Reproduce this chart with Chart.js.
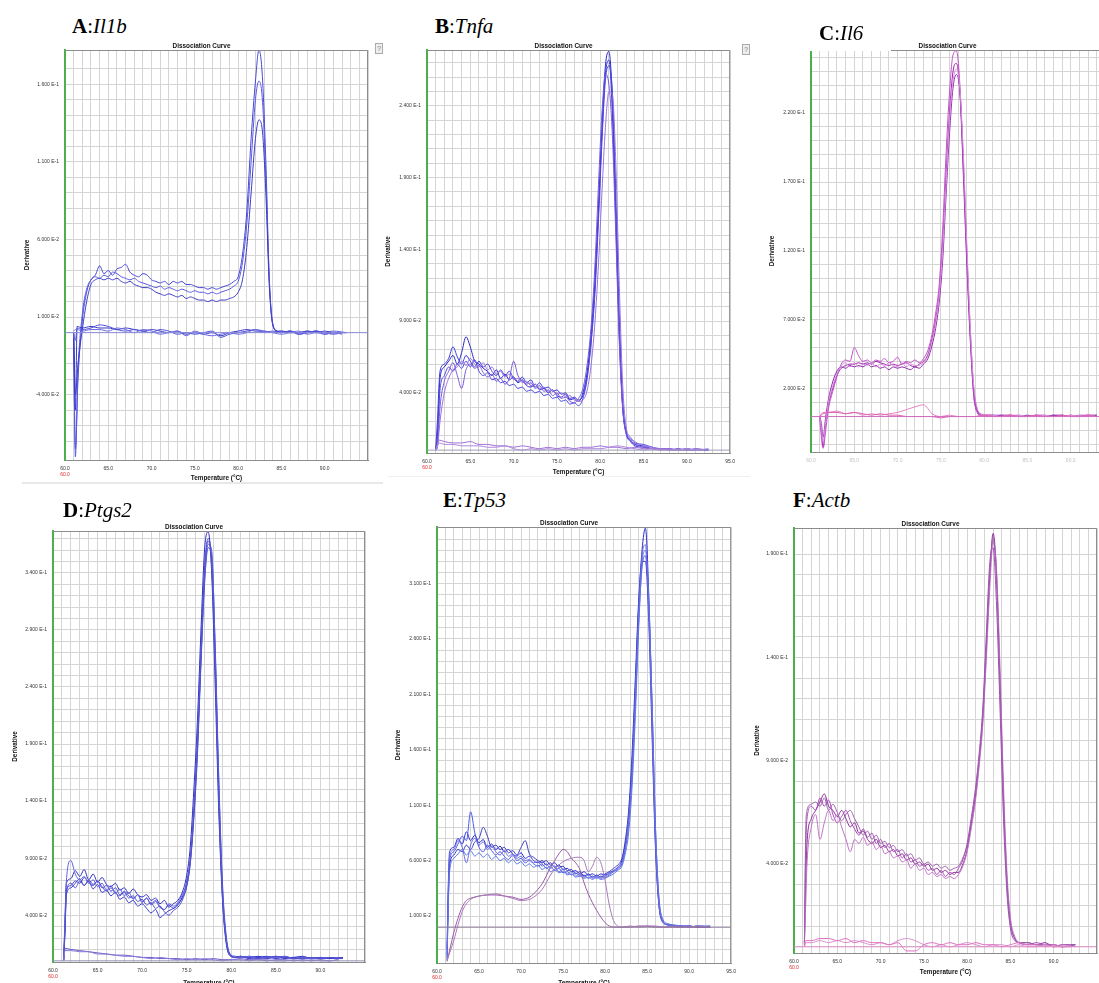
<!DOCTYPE html>
<html lang="en">
<head>
<meta charset="UTF-8">
<title>Dissociation Curves</title>
<script src="https://cdn.jsdelivr.net/npm/chart.js"></script>
<style>
  body { margin: 0; width: 1099px; height: 983px; overflow: hidden; background: #fff; position: relative; }
  .lbl { position: absolute; font-family: "Liberation Serif", "Times New Roman", serif; font-size: 21px; line-height: 21px; color: #000; white-space: nowrap; z-index: 3; }
  .lbl b { font-weight: bold; }
  .lbl i { font-style: italic; }
  canvas { position: absolute; }
  .help { position: absolute; width: 6px; height: 9px; border: 1px solid #aaa; background: #eee; font: 7px "Liberation Sans", Arial, sans-serif; color: #777; text-align: center; line-height: 9px; }
</style>
</head>
<body>
<div class="lbl" style="left:72px;top:16px"><b>A</b>:<i>Il1b</i></div>
<div class="lbl" style="left:435px;top:16px"><b>B</b>:<i>Tnfa</i></div>
<div class="lbl" style="left:819px;top:23px"><b>C</b>:<i>Il6</i></div>
<div style="position:absolute;left:806px;top:42px;width:85px;height:9px;background:#fff;z-index:2"></div>
<div class="lbl" style="left:63px;top:500px"><b>D</b>:<i>Ptgs2</i></div>
<div class="lbl" style="left:443px;top:490px"><b>E</b>:<i>Tp53</i></div>
<div class="lbl" style="left:793px;top:490px"><b>F</b>:<i>Actb</i></div>
<div class="help" style="left:375px;top:43px">?</div>
<div class="help" style="left:742px;top:44px">?</div>
<div style="position:absolute;left:22px;top:482px;width:361px;height:2px;background:#e8e8e8"></div>
<div style="position:absolute;left:388px;top:476px;width:362px;height:1px;background:#efefef"></div>
<script>
// ---------- A: Il1b ----------
const tA = [61, 61.2, 61.5,
  62, 62.5, 63, 63.5, 64, 64.5, 65, 65.5, 66, 66.5, 67, 67.5, 68, 68.5, 69, 69.5, 70, 70.5, 71, 71.5, 72, 72.5, 73, 73.5, 74, 74.5, 75, 75.5, 76, 76.5, 77, 77.5, 78, 78.5, 79, 79.5,
  80, 80.5, 81, 81.5, 82, 82.4, 82.8, 83.2, 83.6, 84, 84.5,
  85, 86, 87, 88, 89, 90, 91, 92.5];
const A1 = [-.005, -.075, -.03,
  .008, .026, .034, .037, .043, .038, .04, .037, .041, .042, .044, .039, .037, .036, .038, .037, .034, .033, .032, .033, .031, .033, .032, .033, .031, .031, .03, .029, .029, .028, .029, .028, .029, .03, .031, .033,
  .036, .05, .078, .125, .162, .182, .165, .11, .035, .006, .001,
  0, .001, -.001, 0, .001, -.001, 0, 0];
const A2 = [-.004, -.08, -.025,
  .012, .028, .034, .036, .035, .037, .036, .039, .038, .036, .035, .034, .035, .033, .032, .031, .03, .029, .03, .028, .029, .028, .027, .028, .027, .026, .027, .026, .026, .025, .026, .025, .026, .027, .028, .03,
  .033, .045, .07, .11, .15, .162, .15, .1, .033, .005, .001,
  .001, 0, 0, .001, 0, 0, .001, 0];
const A3 = [-.003, -.04, -.02,
  .002, .02, .031, .034, .035, .034, .035, .034, .035, .033, .032, .033, .031, .03, .029, .029, .028, .026, .025, .024, .025, .024, .023, .024, .022, .023, .022, .021, .021, .02, .021, .02, .021, .021, .022, .023,
  .026, .034, .055, .09, .125, .137, .13, .09, .03, .005, .001,
  0, .001, 0, 0, .001, 0, 0, 0];
const tAb = [61, 61.2, 61.4, 62, 63, 64, 65, 66, 67, 68, 69, 70, 71, 72, 73, 74, 75, 76, 77, 78, 79, 80, 81, 82, 83, 84, 85, 86, 87, 88, 89, 90, 91, 92];
const Ab1 = [0, -.05, .004, .003, .004, .003, .003, .002, .003, .002, .001, .002, .001, 0, .001, -.001, 0, -.001, 0, -.002, 0, .001, .002, .001, .001, 0, .001, 0, 0, .001, 0, .001, 0, 0];
const Ab2 = [0, -.005, .003, .002, .003, .005, .004, .002, .001, .002, .001, 0, .002, .001, -.001, 0, -.001, 0, .001, -.003, -.001, 0, .001, .002, 0, .001, 0, .001, -.001, 0, .001, 0, -.001, 0];
const Ab3 = [.001, .002, .002, .001, .002, .002, .001, .003, .002, 0, .002, .001, -.001, 0, .001, -.002, .001, -.001, -.002, -.001, 0, -.001, 0, .002, .001, 0, -.001, 0, .001, -.001, 0, -.001, 0, -.001];
const yTicksA = [0.16, 0.11, 0.06, 0.01, -0.04];

// ---------- B: Tnfa ----------
const tB = [61, 61.2,
  61.5, 62, 62.5, 63, 63.5, 64, 64.5, 65, 65.5, 66, 66.5, 67, 67.5, 68, 68.5, 69, 69.5, 70, 70.5, 71, 71.5, 72, 72.5, 73, 73.5, 74, 74.5, 75, 75.5, 76, 76.5, 77, 77.5, 78,
  78.5, 79, 79.4, 79.8, 80.2, 80.6, 81, 81.4, 81.8, 82.2, 82.6, 83, 83.5,
  84, 85, 86, 87, 88, 89, 90, 91, 92.5];
const B1 = [0, .01,
  .05, .058, .062, .066, .06, .068, .079, .072, .062, .06, .057, .055, .052, .056, .05, .053, .049, .051, .047, .049, .045, .044, .046, .042, .043, .04, .042, .038, .037, .039, .035, .036, .034, .04,
  .055, .085, .12, .17, .225, .268, .278, .245, .165, .085, .03, .012, .007,
  .004, .003, .001, .001, 0, .001, 0, 0, 0];
const B2 = [0, .005,
  .042, .052, .058, .055, .06, .057, .062, .058, .063, .055, .052, .054, .049, .05, .047, .048, .045, .046, .043, .044, .041, .042, .04, .041, .038, .039, .036, .037, .034, .035, .032, .033, .031, .036,
  .05, .078, .11, .16, .215, .258, .268, .25, .18, .095, .035, .013, .008,
  .005, .004, .002, .001, .001, 0, .001, 0, 0];
const B3 = [0, .002,
  .03, .048, .055, .061, .052, .043, .056, .06, .057, .059, .054, .051, .053, .048, .05, .046, .05, .062, .052, .048, .046, .047, .043, .045, .041, .042, .038, .04, .036, .037, .034, .033, .036, .043,
  .06, .09, .13, .185, .235, .262, .255, .22, .15, .075, .028, .011, .006,
  .004, .002, .001, 0, .001, 0, 0, .001, 0];
const B4 = [0, .002,
  .02, .04, .05, .056, .058, .062, .059, .064, .06, .058, .061, .056, .058, .053, .055, .051, .053, .049, .05, .047, .048, .045, .046, .043, .044, .041, .042, .039, .04, .037, .038, .035, .034, .035,
  .042, .062, .09, .13, .18, .225, .25, .248, .2, .115, .045, .016, .009,
  .006, .003, .002, .001, .001, 0, .001, 0, .001];
const B5 = [0, .02,
  .055, .06, .064, .072, .065, .06, .066, .062, .058, .062, .058, .06, .055, .052, .056, .052, .055, .05, .048, .051, .047, .049, .044, .047, .043, .044, .041, .042, .039, .04, .036, .037, .035, .038,
  .052, .08, .115, .165, .22, .262, .272, .235, .16, .08, .03, .012, .006,
  .003, .002, .001, .001, 0, 0, .001, 0, 0];
const tBb = [61, 61.2, 61.4, 62, 63, 64, 65, 66, 67, 68, 69, 70, 71, 72, 73, 74, 75, 76, 77, 78, 79, 80, 81, 82, 83, 84, 85, 86, 87, 88, 89, 90, 91, 92];
const Bb1 = [0, .004, .007, .006, .005, .005, .006, .004, .004, .003, .003, .002, .003, .002, .001, .002, .001, .002, .001, .002, .002, .003, .002, .002, .001, .002, .001, .001, .001, 0, .001, 0, .001, 0];
const Bb2 = [0, .003, .005, .004, .004, .003, .003, .003, .002, .002, .003, .001, 0, .001, 0, .001, 0, .001, 0, .001, .001, .001, .002, .003, .002, .001, 0, .001, 0, 0, 0, .001, 0, 0];
const yTicksB = [0.24, 0.19, 0.14, 0.09, 0.04];

// ---------- C: Il6 ----------
const tC = [61, 61.2, 61.4, 61.7,
  62, 62.5, 63, 63.5, 64, 64.5, 65, 65.5, 66, 66.5, 67, 67.5, 68, 68.5, 69, 69.5, 70, 70.5, 71, 71.5, 72, 72.5, 73, 73.5, 74,
  74.4, 74.8, 75.2, 75.6, 76, 76.4, 76.8, 77.2, 77.6, 78, 78.4, 78.8, 79.2, 79.6, 80,
  81, 82, 83, 84, 85, 86, 87, 88, 89, 90, 91, 92, 93];
const C1 = [0, -.01, -.022, -.005,
  .008, .02, .03, .035, .037, .038, .038, .039, .038, .039, .038, .04, .039, .038, .037, .038, .037, .038, .039, .037, .036, .038, .04, .045, .057,
  .07, .09, .125, .175, .22, .25, .256, .235, .175, .11, .055, .015, .003, .001, .001,
  .001, 0, .001, 0, .001, 0, 0, .001, 0, .001, 0, 0, .001];
const C2 = [0, -.015, -.023, -.01,
  .005, .018, .029, .038, .041, .04, .05, .044, .04, .041, .039, .041, .04, .042, .039, .04, .043, .038, .04, .039, .041, .039, .042, .048, .06,
  .075, .095, .135, .19, .235, .262, .265, .24, .18, .115, .058, .016, .004, .002, .001,
  .001, .001, 0, .001, 0, .001, .001, 0, .001, 0, .001, .001, 0];
const C3 = [0, -.005, -.015, 0,
  .012, .025, .033, .036, .035, .037, .036, .037, .036, .038, .036, .037, .035, .036, .034, .036, .035, .036, .035, .034, .036, .035, .038, .042, .052,
  .064, .082, .112, .16, .205, .238, .248, .235, .185, .12, .062, .02, .005, .001, 0,
  0, .001, .001, 0, 0, .001, 0, .001, .001, 0, 0, .001, .001];
const C4 = [0, -.008, -.018, -.004,
  .01, .022, .031, .037, .039, .036, .039, .036, .038, .037, .039, .036, .038, .037, .039, .037, .036, .039, .036, .038, .037, .037, .039, .044, .055,
  .068, .087, .12, .168, .215, .243, .252, .238, .19, .125, .065, .022, .006, .002, .001,
  .001, 0, .001, .001, 0, 0, .001, 0, 0, .001, 0, .001, 0];
const tCb = [61, 61.2, 61.4, 62, 63, 64, 65, 66, 67, 68, 69, 70, 71, 72, 73, 74, 75, 76, 77, 78, 79, 80, 81, 82, 83, 84, 85, 86, 87, 88, 89, 90, 91, 92, 93];
const Cb1 = [0, .001, .002, .003, .003, .002, .003, .002, .001, .002, .001, .001, 0, 0, 0, 0, -.001, 0, 0, 0, 0, .001, 0, 0, .001, 0, 0, .001, 0, 0, .001, 0, 0, .001, 0];
const Cb2 = [0, .002, .003, .003, .004, .002, .003, .001, .002, .001, .002, .003, .005, .007, .0085, .002, 0, .001, 0, 0, 0, .001, 0, 0, .001, 0, 0, .001, 0, 0, 0, .001, 0, 0, 0];
const yTicksC = [0.22, 0.17, 0.12, 0.07, 0.02];

// ---------- D: Ptgs2 ----------
const tD = [61.2, 61.35, 61.5,
  62, 62.5, 63, 63.5, 64, 64.5, 65, 65.5, 66, 66.5, 67, 67.5, 68, 68.5, 69, 69.5, 70, 70.5, 71, 71.5, 72, 72.5, 73, 73.5, 74, 74.5, 75,
  75.4, 75.8, 76.2, 76.6, 77, 77.4, 77.8, 78.2, 78.6, 79, 79.4, 79.8,
  80.5, 81, 82, 83, 84, 85, 86, 87, 88, 89, 90, 91, 92.5];
const D1 = [.001, .035, .068,
  .072, .079, .074, .08, .071, .076, .069, .073, .067, .065, .068, .062, .064, .059, .063, .058, .056, .058, .053, .055, .05, .053, .047, .05, .053, .06, .075,
  .1, .15, .21, .29, .36, .376, .34, .24, .13, .055, .017, .005,
  .003, .004, .003, .004, .003, .004, .002, .003, .004, .002, .003, .002, .003];
const D2 = [.001, .03, .062,
  .066, .07, .068, .073, .069, .066, .07, .064, .066, .061, .064, .058, .061, .057, .055, .058, .052, .055, .05, .053, .047, .045, .049, .046, .049, .056, .07,
  .09, .135, .195, .275, .345, .37, .35, .26, .145, .06, .02, .006,
  .004, .003, .004, .003, .002, .003, .004, .002, .003, .002, .003, .002, .002];
const D3 = [.001, .025, .058,
  .064, .068, .072, .066, .07, .063, .067, .06, .062, .057, .06, .054, .056, .051, .053, .048, .05, .046, .042, .045, .038, .041, .044, .046, .05, .055, .065,
  .085, .125, .18, .26, .33, .362, .355, .275, .16, .07, .024, .007,
  .003, .004, .002, .003, .004, .002, .003, .003, .002, .003, .002, .002, .003];
const D4 = [.001, .04, .07,
  .088, .076, .071, .074, .068, .071, .065, .068, .062, .066, .059, .063, .057, .06, .054, .058, .051, .055, .049, .052, .047, .045, .05, .048, .051, .058, .068,
  .088, .13, .19, .265, .335, .365, .36, .27, .155, .065, .022, .006,
  .003, .003, .004, .002, .003, .003, .004, .002, .003, .002, .002, .003, .002];
const D5 = [.001, .028, .06,
  .068, .064, .07, .066, .071, .067, .07, .065, .061, .064, .06, .057, .06, .055, .057, .052, .054, .049, .051, .046, .048, .043, .04, .044, .047, .053, .066,
  .087, .128, .185, .265, .34, .368, .345, .255, .14, .058, .019, .005,
  .003, .004, .003, .002, .003, .004, .003, .002, .002, .003, .002, .003, .002];
const tDb = [61.2, 61.35, 62, 63, 64, 65, 66, 67, 68, 69, 70, 71, 72, 73, 74, 75, 76, 77, 78, 79, 80, 81, 82, 83, 84, 85, 86, 87, 88, 89, 90, 91, 92];
const Db1 = [0, .011, .01, .009, .008, .007, .006, .005, .005, .004, .003, .003, .002, .002, .002, .001, .002, .001, .002, .001, .001, .002, .001, .001, 0, .001, .001, 0, .001, 0, .001, 0, .001];
const Db2 = [0, .009, .009, .008, .008, .006, .006, .005, .004, .004, .003, .002, .003, .002, .001, .002, .001, .002, .001, 0, .001, .001, 0, .001, .001, 0, 0, .001, 0, .001, 0, 0, .001];
const yTicksD = [0.34, 0.29, 0.24, 0.19, 0.14, 0.09, 0.04];

// ---------- E: Tp53 ----------
const tE = [61.2, 61.35, 61.5,
  62, 62.5, 63, 63.5, 64, 64.5, 65, 65.5, 66, 66.5, 67, 67.5, 68, 68.5, 69, 69.5, 70, 70.5, 71, 71.5, 72, 72.5, 73, 73.5, 74, 74.5, 75, 75.5, 76, 76.5, 77, 77.5, 78, 78.5, 79, 79.5, 80, 80.5, 81, 81.5, 82,
  82.4, 82.8, 83.2, 83.6, 84, 84.4, 84.8, 85.2, 85.6, 86, 86.4, 86.8,
  87.5, 88, 89, 90, 91, 92.5];
const E1 = [-.02, .04, .068,
  .072, .08, .075, .086, .078, .083, .076, .079, .072, .075, .07, .073, .068, .07, .066, .064, .067, .062, .064, .06, .058, .06, .056, .058, .054, .056, .052, .053, .05, .051, .048, .05, .047, .048, .046, .048, .047, .049, .051, .054, .06,
  .075, .1, .145, .215, .29, .34, .36, .3, .19, .08, .022, .006,
  .002, .001, .001, 0, .001, 0];
const E2 = [-.025, .03, .06,
  .068, .075, .082, .078, .104, .085, .072, .068, .074, .069, .065, .068, .064, .061, .065, .06, .062, .058, .06, .057, .055, .057, .053, .055, .051, .053, .049, .05, .047, .049, .046, .047, .044, .046, .044, .046, .045, .047, .05, .052, .057,
  .07, .092, .135, .2, .275, .325, .335, .29, .2, .09, .028, .008,
  .003, .002, .001, .001, 0, .001];
const E3 = [-.03, .025, .055,
  .065, .07, .068, .074, .07, .077, .08, .09, .082, .072, .074, .07, .072, .067, .069, .065, .072, .078, .066, .063, .06, .058, .06, .056, .058, .054, .055, .051, .052, .048, .05, .046, .048, .045, .047, .045, .048, .05, .053, .056, .062,
  .078, .105, .155, .225, .295, .33, .33, .275, .17, .07, .02, .005,
  .002, .001, 0, .001, 0, 0];
const E4 = [-.028, .02, .05,
  .062, .066, .07, .065, .069, .064, .067, .063, .066, .061, .064, .06, .062, .058, .061, .057, .059, .055, .057, .054, .056, .052, .054, .05, .052, .049, .05, .047, .048, .045, .046, .044, .045, .043, .045, .043, .044, .046, .048, .051, .055,
  .066, .085, .125, .19, .27, .328, .34, .295, .2, .09, .026, .007,
  .002, .002, .001, 0, .001, .001];
const E5 = [-.02, .035, .064,
  .07, .078, .072, .058, .074, .08, .074, .077, .07, .073, .068, .065, .069, .064, .066, .062, .064, .06, .061, .058, .059, .055, .057, .053, .055, .05, .052, .048, .05, .046, .048, .045, .047, .044, .046, .044, .046, .048, .05, .053, .058,
  .072, .097, .14, .21, .285, .335, .345, .285, .18, .075, .021, .006,
  .002, .001, .001, .001, 0, 0];
const tEp = [61.2, 62, 62.5, 63, 63.5, 64, 65, 66, 67, 68, 69, 70, 71, 71.5, 72, 72.5, 73, 73.5, 74, 74.5, 75, 75.5, 76, 76.5, 77, 77.5, 78, 78.5, 79, 79.5, 80, 80.5, 81, 81.5, 82, 83, 84, 85, 86, 87, 88, 89, 90, 91, 92.5];
const Ep1 = [-.031, -.005, .008, .018, .024, .026, .028, .029, .029, .028, .027, .025, .027, .03, .034, .039, .046, .054, .06, .066, .07, .068, .062, .058, .052, .04, .03, .022, .015, .009, .004, .001, 0, 0, 0, 0, .001, .001, 0, 0, 0, 0, 0, 0, 0];
const Ep2 = [-.03, -.012, .002, .014, .021, .025, .028, .029, .03, .028, .026, .024, .025, .027, .03, .034, .04, .047, .052, .056, .059, .061, .062, .063, .063, .06, .05, .055, .063, .058, .042, .02, .006, .001, 0, .001, 0, .001, .001, 0, .001, 0, 0, .001, 0];
const yTicksE = [0.36, 0.31, 0.26, 0.21, 0.16, 0.11, 0.06, 0.01];

// ---------- F: Actb ----------
const tF = [61.2, 61.35, 61.5,
  62, 62.5, 63, 63.5, 64, 64.5, 65, 65.5, 66, 66.5, 67, 67.5, 68, 68.5, 69, 69.5, 70, 70.5, 71, 71.5, 72, 72.5, 73, 73.5, 74, 74.5, 75, 75.5, 76, 76.5, 77, 77.5, 78, 78.5, 79, 79.5, 80,
  80.5, 81, 81.4, 81.8, 82.2, 82.6, 83, 83.4, 83.8, 84.2, 84.6, 85, 85.5,
  86, 87, 88, 89, 90, 91, 92.5];
const F1 = [.001, .03, .05,
  .062, .066, .07, .074, .068, .066, .063, .066, .062, .058, .06, .055, .056, .052, .05, .052, .048, .049, .046, .047, .044, .045, .042, .043, .04, .041, .039, .04, .037, .038, .036, .037, .035, .036, .036, .04, .047,
  .06, .074, .09, .11, .142, .178, .2, .18, .128, .072, .032, .012, .004,
  .002, .002, .001, .002, 0, .001, .001];
const F2 = [.001, .045, .062,
  .068, .066, .072, .068, .071, .064, .06, .063, .066, .061, .057, .054, .057, .053, .055, .05, .052, .048, .05, .046, .047, .043, .045, .041, .042, .039, .04, .037, .038, .035, .037, .034, .036, .035, .038, .042, .05,
  .063, .078, .094, .115, .15, .185, .193, .165, .115, .062, .026, .009, .003,
  .002, .001, .002, .001, .001, 0, .001];
const F3 = [.001, .02, .04,
  .058, .064, .052, .06, .066, .061, .064, .058, .052, .046, .052, .05, .053, .049, .051, .047, .049, .045, .046, .043, .044, .041, .042, .038, .04, .037, .038, .035, .036, .034, .035, .033, .034, .033, .035, .039, .046,
  .058, .072, .088, .107, .138, .172, .196, .182, .135, .078, .036, .014, .005,
  .002, .001, .001, .001, 0, .001, 0];
const F4 = [.002, .055, .066,
  .069, .07, .068, .072, .066, .069, .065, .061, .064, .066, .062, .058, .054, .056, .052, .054, .05, .051, .048, .049, .046, .047, .044, .045, .042, .043, .04, .041, .039, .04, .038, .039, .037, .038, .039, .043, .049,
  .061, .076, .092, .112, .145, .18, .198, .176, .125, .07, .03, .011, .004,
  .002, .002, .001, .001, .001, 0, .001];
const tFb = [61.2, 61.35, 62, 63, 64, 65, 66, 67, 68, 69, 70, 71, 72, 73, 74, 75, 76, 77, 78, 79, 80, 81, 82, 83, 84, 85, 86, 87, 88, 89, 90, 91, 92];
const Fb1 = [0, .003, .003, .004, .004, .003, .004, .002, .003, .002, .002, .001, .002, -.002, -.002, .001, .002, .001, .002, .001, .001, .002, .001, .001, 0, .001, .002, .001, .001, 0, .001, 0, 0];
const Fb2 = [0, .002, .002, .003, .002, .003, .002, .003, .002, .001, .002, .001, .003, .004, .003, .001, 0, .001, 0, .001, .002, .001, 0, .001, .001, 0, .001, 0, 0, .001, 0, 0, .001];
const yTicksF = [0.19, 0.14, 0.09, 0.04];

// threshold line across the whole plot
const edgeT = [60, 95];
const zeroV = [0, 0];

const FONT = '"Liberation Sans", Arial, sans-serif';

function fmt(v) {
  const e = Math.floor(Math.log10(Math.abs(v)) + 1e-9);
  return (v / Math.pow(10, e)).toFixed(3) + ' E' + e;
}

function pts(ts, vs) {
  return ts.map((t, i) => ({ x: t, y: vs[i] }));
}

const framePlugin = {
  id: 'frame',
  afterDraw(chart, args, o) {
    const { ctx, chartArea: a } = chart;
    ctx.save();
    ctx.strokeStyle = '#8c8c8c';
    ctx.lineWidth = 1;
    ctx.beginPath();
    ctx.moveTo(a.left, a.top + 0.5);
    ctx.lineTo(a.right - 0.5, a.top + 0.5);
    ctx.lineTo(a.right - 0.5, a.bottom);
    ctx.stroke();
    ctx.fillStyle = '#111';
    ctx.font = 'bold 6.4px ' + FONT;
    ctx.textAlign = 'center';
    ctx.textBaseline = 'alphabetic';
    ctx.fillText('Dissociation Curve', (a.left + a.right) / 2 - 15, a.top - 2);
    if (o.red) {
      ctx.fillStyle = '#e02828';
      ctx.font = '5px ' + FONT;
      ctx.textBaseline = 'middle';
      ctx.fillText('60.0', a.left, a.bottom + 14.5);
    }
    ctx.restore();
  }
};

function panel(p) {
  const padL = Math.round(p.L - p.yTitleX + 3.8);
  const padT = 12, padR = 4;
  const padB = p.xTitleY ? Math.round(p.xTitleY + 3.8 - p.B) : 14;
  const w = Math.round(p.R - p.L) + padL + padR;
  const h = (p.B - p.T) + padT + padB;
  const cv = document.createElement('canvas');
  cv.width = w; cv.height = h;
  cv.style.left = (p.L - padL) + 'px';
  cv.style.top = (p.T - padT) + 'px';
  cv.style.width = w + 'px';
  cv.style.height = h + 'px';
  document.body.appendChild(cv);

  const datasets = [{ data: pts(edgeT, zeroV), borderColor: p.zeroColor, tension: 0 }]
    .concat(p.series.map(s => ({ data: pts(s[0], s[1]), borderColor: s[2] })));

  new Chart(cv, {
    type: 'line',
    data: { datasets: datasets },
    options: {
      responsive: false,
      animation: false,
      devicePixelRatio: 1,
      layout: { padding: { left: 0, top: padT, right: padR, bottom: 0 } },
      elements: {
        line: { borderWidth: 1, tension: 0.3, cubicInterpolationMode: 'monotone', fill: false },
        point: { radius: 0 }
      },
      plugins: { legend: { display: false }, tooltip: { enabled: false }, frame: { red: p.red } },
      scales: {
        x: {
          type: 'linear', min: 60, max: 95,
          afterFit: a => { a.height = padB; },
          border: { color: '#8c8c8c', width: 1 },
          grid: { color: '#d4d4d4', lineWidth: 1, drawTicks: false },
          ticks: {
            stepSize: 1, autoSkip: false, maxRotation: 0, padding: 6,
            color: p.xTickColor, font: { size: 5, family: FONT },
            callback: v => (v % 5 === 0 && v <= p.xLast) ? v.toFixed(1) : ''
          },
          title: { display: !!p.xTitleY, text: 'Temperature (°C)', color: '#111', padding: 0, font: { size: 6.4, weight: 'bold', family: FONT } }
        },
        y: {
          min: p.yMin, max: p.yMax,
          afterFit: a => { a.width = padL; },
          border: { color: '#4cae4c', width: 2 },
          grid: { color: '#d4d4d4', lineWidth: 1, drawTicks: false },
          ticks: {
            stepSize: 0.01, autoSkip: false, padding: 6,
            color: '#333', font: { size: 5, family: FONT },
            callback: v => p.majors.some(m => Math.abs(m - v) < 1e-6) ? fmt(v) : ''
          },
          title: { display: true, text: 'Derivative', color: '#111', padding: 0, font: { size: 6.4, weight: 'bold', family: FONT } }
        }
      }
    },
    plugins: [framePlugin]
  });
}

panel({ L: 65, T: 50, R: 370, B: 460, yMin: -0.082, yMax: 0.182, majors: yTicksA,
  yTitleX: 27, xTitleY: 478, xLast: 90, red: true, xTickColor: '#333', zeroColor: '#8c8cdc',
  series: [[tAb, Ab3, '#6a6ae0'], [tAb, Ab2, '#5050d8'], [tAb, Ab1, '#3a3ac8'],
           [tA, A3, '#3c3cc8'], [tA, A2, '#5a5ae0'], [tA, A1, '#4646d6']] });

panel({ L: 427, T: 50, R: 737, B: 453, yMin: -0.002, yMax: 0.279, majors: yTicksB,
  yTitleX: 388, xTitleY: 472, xLast: 95, red: true, xTickColor: '#333', zeroColor: '#a0a0b8',
  series: [[tBb, Bb2, '#b088e0'], [tBb, Bb1, '#a070d8'],
           [tB, B4, '#9a70e0'], [tB, B3, '#7a58d8'], [tB, B2, '#4a4ae0'], [tB, B5, '#3a3ad8'], [tB, B1, '#2828c8']] });

panel({ L: 811, T: 50, R: 1116, B: 452, yMin: -0.0257, yMax: 0.2657, majors: yTicksC,
  yTitleX: 772, xTitleY: null, xLast: 90, red: false, xTickColor: '#c4c4c4', zeroColor: '#d070c0',
  series: [[tCb, Cb1, '#e060b0'], [tCb, Cb2, '#e880c8'],
           [tC, C4, '#d890e0'], [tC, C3, '#8a2aa8'], [tC, C2, '#c050c8'], [tC, C1, '#a020a8']] });

panel({ L: 53, T: 531, R: 367, B: 962, yMin: -0.001, yMax: 0.3767, majors: yTicksD,
  yTitleX: 15, xTitleY: 983, xLast: 90, red: true, xTickColor: '#333', zeroColor: '#9090b0',
  series: [[tDb, Db2, '#8a7ad8'], [tDb, Db1, '#6a5ac8'],
           [tD, D5, '#5252c8'], [tD, D4, '#6060e0'], [tD, D3, '#3a3ad0'], [tD, D2, '#4848d8'], [tD, D1, '#2e2ec0']] });

panel({ L: 437, T: 527, R: 738, B: 963, yMin: -0.0324, yMax: 0.361, majors: yTicksE,
  yTitleX: 398, xTitleY: 983, xLast: 95, red: true, xTickColor: '#333', zeroColor: '#8a7a9a',
  series: [[tEp, Ep2, '#a878b8'], [tEp, Ep1, '#9a5aa8'],
           [tE, E5, '#6a6ae0'], [tE, E4, '#5a78e8'], [tE, E3, '#3a3ac0'], [tE, E2, '#4a5ae8'], [tE, E1, '#2a2ad0']] });

panel({ L: 794, T: 528, R: 1099, B: 953, yMin: -0.003, yMax: 0.2026, majors: yTicksF,
  yTitleX: 757, xTitleY: 972, xLast: 90, red: true, xTickColor: '#333', zeroColor: '#e090c8',
  series: [[tFb, Fb1, '#e070c0'], [tFb, Fb2, '#d890d0'],
           [tF, F4, '#9a60a8'], [tF, F3, '#c070c8'], [tF, F2, '#a848b8'], [tF, F1, '#8a2898']] });
</script>
</body>
</html>
